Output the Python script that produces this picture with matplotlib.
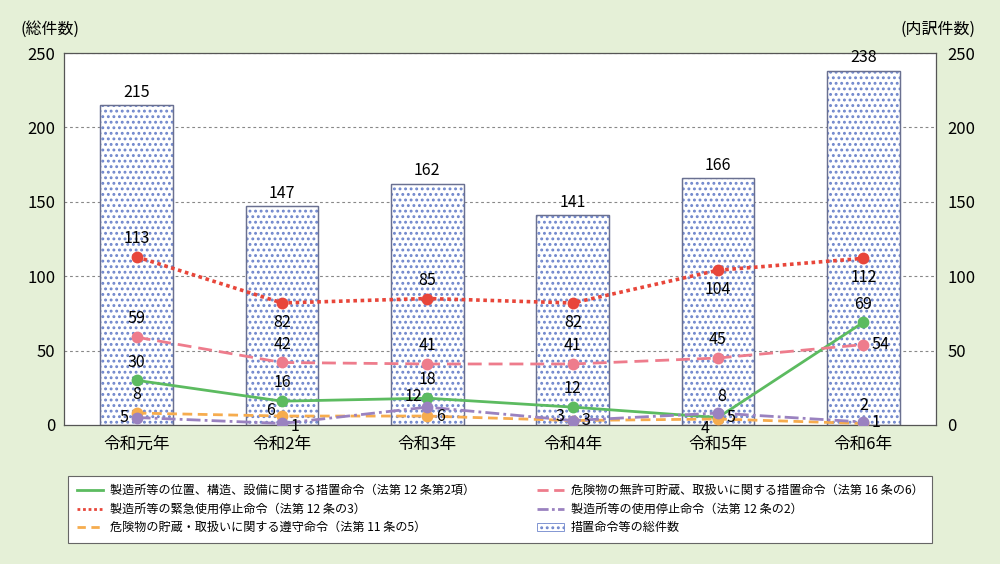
import matplotlib
matplotlib.use("Agg")
import matplotlib.pyplot as plt
from matplotlib.lines import Line2D
from matplotlib.patches import Patch
import numpy as np

plt.rcParams['font.family'] = ['Noto Sans CJK JP', 'DejaVu Sans']
plt.rcParams['hatch.linewidth'] = 1.3

categories = ['令和元年', '令和2年', '令和3年', '令和4年', '令和5年', '令和6年']
total = [215, 147, 162, 141, 166, 238]
s_green = [30, 16, 18, 12, 5, 69]      # 位置、構造、設備
s_red = [113, 82, 85, 82, 104, 112]    # 緊急使用停止
s_orange = [8, 6, 6, 3, 4, 1]          # 遵守命令
s_pink = [59, 42, 41, 41, 45, 54]      # 無許可貯蔵
s_purple = [5, 1, 12, 3, 8, 2]         # 使用停止

names = {
    'green': '製造所等の位置、構造、設備に関する措置命令（法第 12 条第2項）',
    'red': '製造所等の緊急使用停止命令（法第 12 条の3）',
    'orange': '危険物の貯蔵・取扱いに関する遵守命令（法第 11 条の5）',
    'pink': '危険物の無許可貯蔵、取扱いに関する措置命令（法第 16 条の6）',
    'purple': '製造所等の使用停止命令（法第 12 条の2）',
    'bar': '措置命令等の総件数',
}

BG = '#e5f0d7'
fig = plt.figure(figsize=(10, 5.64), dpi=100, facecolor=BG)
ax = fig.add_axes([0.064, 0.2465, 0.872, 0.6595])
ax.set_facecolor('white')

x = np.arange(len(categories))
bar_col = '#6f86cc'
ax.bar(x, total, width=0.5, color='white', edgecolor=bar_col, hatch='...',
       linewidth=0.8, zorder=2)
ax.bar(x, total, width=0.5, color='none', edgecolor='#6a7090', linewidth=1.0, zorder=2.5)
for xi, v in zip(x, total):
    ax.text(xi, v + 3, str(v), ha='center', va='bottom', fontsize=11.5, zorder=6)

ax.set_ylim(0, 250)
ax.set_xlim(-0.5, len(categories) - 0.5)
ax.set_yticks(range(0, 251, 50))
for yv in range(50, 251, 50):
    ax.axhline(yv, color='#888888', lw=0.8, ls=(0, (2.5, 2.5)), zorder=1)

series = [
    ('green', s_green, '#5cbb60', '-', 2.0),
    ('red', s_red, '#e8463a', (0, (1, 1)), 2.6),
    ('orange', s_orange, '#f6ac4e', (0, (3.5, 2)), 2.0),
    ('pink', s_pink, '#ee7c8c', (0, (5, 2.5)), 2.0),
    ('purple', s_purple, '#9a82c0', (0, (5, 1.5, 1, 1.5)), 2.0),
]
for key, vals, col, ls, lw in series:
    ax.plot(x, vals, color=col, ls=ls, lw=lw, marker='o', markersize=8.5,
            markeredgewidth=0, zorder=4)

# label offsets (points): (dx, dy, ha, va)
A = (0, 7, 'center', 'bottom')
B = (0, -8, 'center', 'top')
R = (6, 0, 'left', 'center')
L = (-6, 0, 'right', 'center')
offsets = {
    'red': [A, B, A, B, B, B],
    'pink': [A, A, A, A, A, R],
    'green': [A, A, A, A, R, A],
    'orange': [A, (-5, 4, 'right', 'center'), R, R, (-6, -7, 'right', 'center'), (6, 1, 'left', 'center')],
    'purple': [L, (6, -2, 'left', 'center'), (-4, 8, 'right', 'center'), (-6, 3, 'right', 'center'), (3, 6, 'center', 'bottom'), (0, 6, 'center', 'bottom')],
}
for key, vals, col, ls, lw in series:
    for i, v in enumerate(vals):
        dx, dy, ha, va = offsets[key][i]
        ax.annotate(str(v), (x[i], v), xytext=(dx, dy), textcoords='offset points',
                    ha=ha, va=va, fontsize=11.5, zorder=6)

ax.set_xticks(x)
ax.set_xticklabels(categories, fontsize=12)
ax.tick_params(axis='both', length=0, labelsize=12, pad=6)
ax.tick_params(axis='x', pad=8)
for sp in ax.spines.values():
    sp.set_color('#555555')
    sp.set_linewidth(0.9)

ax2 = ax.twinx()
ax2.set_ylim(0, 250)
ax2.set_yticks(range(0, 251, 50))
ax2.tick_params(axis='y', length=0, labelsize=12, pad=8)
for sp in ax2.spines.values():
    sp.set_visible(False)

fig.text(0.020, 0.948, '(総件数)', fontsize=11.5, ha='left', va='center')
fig.text(0.975, 0.948, '(内訳件数)', fontsize=11.5, ha='right', va='center')

handles = [
    Line2D([], [], color='#5cbb60', lw=2.0, ls='-'),
    Line2D([], [], color='#e8463a', lw=2.0, ls=(0, (1, 1))),
    Line2D([], [], color='#f6ac4e', lw=2.0, ls=(0, (3, 2))),
    Line2D([], [], color='#ee7c8c', lw=2.0, ls=(0, (4, 2))),
    Line2D([], [], color='#9a82c0', lw=2.0, ls=(0, (4, 1.2, 1, 1.2))),
    Patch(facecolor='white', edgecolor=bar_col, hatch='...', linewidth=0.6),
]
labels = [names['green'], names['red'], names['orange'], names['pink'], names['purple'], names['bar']]
leg = fig.legend(handles, labels, ncol=2, loc='upper left',
                 bbox_to_anchor=(0.062, 0.028, 0.876, 0.139), mode='expand',
                 fontsize=8.7, frameon=True, fancybox=False, edgecolor='#666666',
                 framealpha=1.0, handlelength=2.2, handletextpad=0.6, labelspacing=0.45,
                 borderpad=0.7, columnspacing=1.0)
leg.get_frame().set_linewidth(0.8)

fig.savefig('out.png', dpi=100, facecolor=BG)
